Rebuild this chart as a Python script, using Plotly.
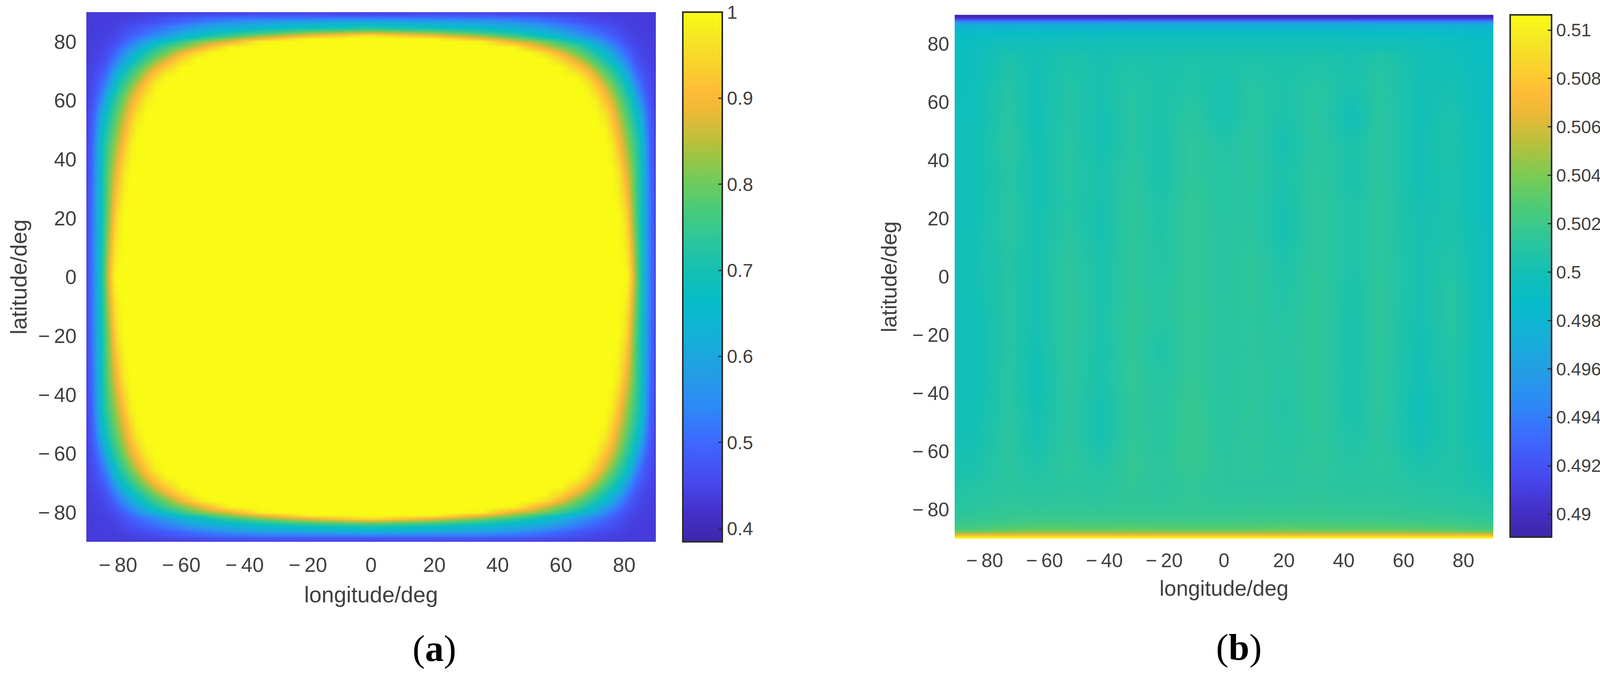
import numpy as np
import plotly.graph_objects as go

W, H = 4142, 1728

# parula
parula = [
    [0.00, "rgb(62,38,168)"], [0.06, "rgb(69,50,205)"], [0.12, "rgb(70,75,240)"],
    [0.19, "rgb(62,105,254)"], [0.25, "rgb(46,135,247)"], [0.31, "rgb(37,155,230)"],
    [0.38, "rgb(22,175,217)"], [0.45, "rgb(6,188,201)"], [0.51, "rgb(20,192,180)"],
    [0.57, "rgb(45,198,155)"], [0.63, "rgb(75,203,120)"], [0.69, "rgb(120,203,85)"],
    [0.75, "rgb(180,193,60)"], [0.81, "rgb(235,185,55)"], [0.85, "rgb(255,187,55)"],
    [0.90, "rgb(250,210,45)"], [0.95, "rgb(245,230,35)"], [1.00, "rgb(249,251,20)"],
]

# panel (a): one quadrant, the map is symmetric
nodes_a = [0, 20, 35, 45, 50, 55, 60, 65, 68, 71, 74, 76, 78, 80, 81, 82, 83, 84, 85, 86, 87, 88, 89, 90]
quad_a = [
    [1, 1, 1, 1, 1, 1, 1, 1, 1, 1, 1, 1, 1, 1, .995, .94, .875, .80, .73, .65, .58, .525, .49, .45],  # lat 0
    [1, 1, 1, 1, 1, 1, 1, 1, 1, 1, 1, 1, 1, .97, .93, .875, .815, .765, .71, .64, .575, .52, .485, .45],  # lat 20
    [1, 1, 1, 1, 1, 1, 1, 1, 1, 1, 1, 1, .975, .905, .87, .835, .795, .75, .705, .625, .57, .51, .48, .447],  # lat 35
    [1, 1, 1, 1, 1, 1, 1, 1, 1, 1, 1, .98, .915, .855, .825, .795, .765, .73, .695, .615, .56, .50, .475, .445],  # lat 45
    [1, 1, 1, 1, 1, 1, 1, 1, 1, 1, .995, .945, .885, .83, .80, .77, .74, .71, .66, .60, .535, .49, .47, .44],  # lat 50
    [1, 1, 1, 1, 1, 1, 1, 1, 1, 1, .97, .915, .855, .80, .77, .74, .71, .67, .62, .57, .515, .485, .465, .44],  # lat 55
    [1, 1, 1, 1, 1, 1, 1, 1, 1, .985, .92, .87, .815, .76, .73, .71, .66, .60, .56, .52, .49, .47, .455, .44],  # lat 60
    [1, 1, 1, 1, 1, 1, 1, 1, .99, .93, .86, .81, .755, .71, .665, .62, .58, .54, .51, .485, .47, .46, .45, .44],  # lat 65
    [1, 1, 1, 1, 1, 1, 1, .995, .945, .885, .81, .765, .72, .66, .62, .58, .54, .51, .49, .475, .465, .455, .447, .44],  # lat 68
    [1, 1, 1, 1, 1, 1, 1, .935, .885, .82, .76, .72, .665, .59, .56, .535, .505, .485, .47, .46, .455, .45, .445, .437],  # lat 71
    [1, 1, 1, 1, 1, 1, .945, .865, .81, .755, .70, .645, .59, .545, .52, .50, .48, .465, .457, .452, .447, .445, .44, .435],  # lat 74
    [1, 1, 1, 1, 1, .96, .885, .80, .76, .715, .65, .60, .555, .515, .495, .48, .47, .46, .452, .448, .445, .442, .44, .435],  # lat 76
    [1, 1, 1, .995, .93, .865, .81, .76, .715, .655, .59, .555, .52, .49, .475, .465, .457, .45, .447, .445, .442, .44, .437, .435],  # lat 78
    [1, 1, .99, .87, .84, .80, .745, .685, .635, .585, .545, .515, .49, .47, .46, .455, .45, .447, .445, .443, .44, .438, .436, .435],  # lat 80
    [1, .99, .885, .82, .78, .73, .69, .625, .585, .555, .525, .50, .48, .465, .455, .45, .447, .445, .442, .44, .44, .438, .436, .435],  # lat 81
    [.97, .885, .82, .75, .715, .665, .625, .575, .55, .525, .50, .485, .47, .457, .45, .447, .445, .442, .44, .44, .438, .437, .435, .435],  # lat 82
    [.865, .82, .75, .705, .675, .64, .60, .555, .53, .51, .49, .475, .465, .453, .447, .445, .442, .44, .44, .438, .437, .436, .435, .435],  # lat 83
    [.765, .735, .70, .65, .625, .60, .565, .53, .515, .495, .48, .47, .46, .45, .445, .442, .44, .44, .438, .437, .436, .435, .435, .435],  # lat 84
    [.705, .675, .635, .61, .60, .575, .545, .52, .50, .485, .47, .463, .455, .447, .443, .44, .44, .438, .437, .437, .436, .435, .435, .435],  # lat 85
    [.65, .625, .605, .58, .56, .54, .515, .49, .48, .47, .46, .455, .45, .445, .442, .44, .44, .438, .437, .436, .435, .435, .435, .435],  # lat 86
    [.59, .575, .56, .54, .525, .505, .49, .475, .465, .455, .45, .447, .443, .44, .44, .438, .437, .436, .436, .435, .435, .435, .435, .435],  # lat 87
    [.52, .515, .51, .505, .50, .49, .48, .465, .458, .45, .447, .444, .44, .44, .438, .437, .436, .436, .435, .435, .435, .435, .435, .433],  # lat 88
    [.47, .475, .475, .47, .465, .46, .455, .447, .445, .442, .44, .44, .438, .437, .436, .436, .435, .435, .435, .435, .435, .434, .433, .432],  # lat 89
    [.445, .445, .445, .445, .44, .44, .44, .438, .438, .437, .436, .436, .435, .435, .435, .435, .435, .434, .434, .434, .433, .432, .432, .43],  # lat 90
]

# panel (b): vertical streaks plus the two bright/dark bands at the poles
lon_b = [-90, -84, -72, -63, -52, -41, -31, -21, -11, 0, 9, 20, 31, 43, 52, 65, 76, 85, 90]
lat_b = [-90, -89.4, -89, -88.5, -88.1, -87, -84.7, -82, -78, -72, -65, -55, -45, -35, -25,
         -15, -5, 5, 15, 25, 35, 45, 55, 65, 75, 80, 83, 85.5, 87, 88, 88.5, 89.3, 90]
z_b = [
    [.5106] * 19,
    [.5100] * 19,
    [.5080] * 19,
    [.5065] * 19,
    [.5048, .5050, .5052, .5053, .5053, .5052, .5053, .5052, .5052, .5052, .5052, .5053, .5052, .5052, .5052, .5052, .5051, .5050, .5048],
    [.5026, .5028, .5033, .5036, .5035, .5035, .5036, .5035, .5034, .5034, .5035, .5036, .5035, .5034, .5035, .5033, .5031, .5028, .5027],
    [.5018, .5019, .5022, .5024, .5024, .5023, .5024, .5023, .5023, .5023, .5023, .5025, .5024, .5023, .5023, .5022, .5021, .5019, .5018],
    [.5013, .5014, .5017, .5017, .5017, .5017, .5017, .5017, .5017, .5017, .5018, .5018, .5018, .5017, .5017, .5016, .5015, .5013, .5012],
    [.5010, .5011, .5014, .5013, .5014, .5013, .5015, .5014, .5016, .5014, .5015, .5014, .5015, .5014, .5014, .5013, .5011, .5010, .5008],
    [.5006, .5008, .5012, .5010, .5012, .5011, .5015, .5012, .5015, .5012, .5012, .5012, .5013, .5011, .5012, .5009, .5008, .5005, .5002],
    [.5003, .5004, .5012, .5006, .5014, .5008, .5016, .5012, .5017, .5012, .5014, .5011, .5015, .5009, .5013, .5005, .5008, .5002, .4998],
    [.5001, .5000, .5012, .5002, .5012, .5002, .5015, .5011, .5018, .5011, .5014, .5009, .5014, .5006, .5012, .4999, .5007, .5000, .4996],
    [.5000, .4998, .5011, .5000, .5012, .5002, .5014, .5010, .5018, .5010, .5014, .5008, .5015, .5004, .5013, .4998, .5007, .4999, .4995],
    [.4999, .4997, .5011, .4999, .5013, .5004, .5016, .5009, .5016, .5010, .5014, .5009, .5015, .5003, .5013, .4999, .5008, .4998, .4995],
    [.4999, .4996, .5010, .5000, .5013, .5004, .5015, .5006, .5016, .5010, .5013, .5010, .5015, .5004, .5014, .5000, .5009, .4998, .4995],
    [.4998, .4997, .5010, .5001, .5014, .5005, .5015, .5009, .5016, .5011, .5013, .5009, .5015, .5004, .5014, .5001, .5010, .4998, .4995],
    [.4998, .4999, .5010, .5001, .5014, .5004, .5014, .5009, .5016, .5010, .5014, .5007, .5015, .5005, .5014, .5002, .5010, .4998, .4994],
    [.4998, .5000, .5009, .5002, .5013, .5004, .5014, .5008, .5016, .5010, .5014, .5006, .5014, .5006, .5013, .5003, .5008, .4997, .4994],
    [.4997, .4999, .5011, .5002, .5011, .5002, .5014, .5007, .5016, .5010, .5012, .5002, .5014, .5006, .5013, .5002, .5006, .4997, .4994],
    [.4997, .4998, .5011, .5001, .5009, .5003, .5014, .5006, .5016, .5009, .5011, .5003, .5014, .5006, .5013, .5001, .5005, .4996, .4994],
    [.4996, .4998, .5010, .5001, .5010, .5004, .5012, .5004, .5014, .5009, .5012, .5005, .5013, .5004, .5012, .5000, .5005, .4996, .4994],
    [.4996, .4998, .5012, .5000, .5010, .5001, .5010, .5004, .5014, .5008, .5012, .5002, .5012, .5005, .5012, .5000, .5006, .4996, .4994],
    [.4996, .4997, .5011, .4999, .5009, .5001, .5010, .5005, .5012, .5002, .5011, .5005, .5012, .4998, .5012, .4999, .5005, .4995, .4993],
    [.4995, .4996, .5009, .4999, .5008, .5003, .5009, .5005, .5008, .5003, .5010, .5006, .5010, .5004, .5011, .5000, .5002, .4994, .4992],
    [.4993, .4995, .5005, .5000, .5006, .5002, .5006, .5004, .5006, .5005, .5006, .5004, .5006, .5003, .5008, .5000, .4998, .4993, .4992],
    [.4992, .4994, .4999, .4998, .5000, .4999, .5000, .5000, .5000, .5000, .5000, .5000, .5000, .4999, .5000, .4998, .4995, .4992, .4992],
    [.4990, .4991, .4992, .4993, .4994, .4994, .4995, .4995, .4995, .4995, .4995, .4995, .4994, .4994, .4993, .4993, .4992, .4990, .4990],
    [.4980] * 19,
    [.4965] * 19,
    [.4937] * 19,
    [.4915] * 19,
    [.4896, .4896, .4896, .4896, .4896, .4896, .4895, .4895, .4894, .4894, .4894, .4895, .4895, .4895, .4896, .4896, .4896, .4896, .4896],
    [.4891, .4891, .4891, .4891, .4891, .4891, .4891, .4891, .4890, .4890, .4890, .4891, .4891, .4891, .4891, .4891, .4891, .4891, .4891],
]

axis_ticks = [-80, -60, -40, -20, 0, 20, 40, 60, 80]
axis_text = ["\u2212\u200980", "\u2212\u200960", "\u2212\u200940", "\u2212\u200920", "0", "20", "40", "60", "80"]
cb_a_ticks = [0.4, 0.5, 0.6, 0.7, 0.8, 0.9, 1]
cb_a_text = ["0.4", "0.5", "0.6", "0.7", "0.8", "0.9", "1"]
cb_b_ticks = [0.49, 0.492, 0.494, 0.496, 0.498, 0.5, 0.502, 0.504, 0.506, 0.508, 0.51]
cb_b_text = ["0.49", "0.492", "0.494", "0.496", "0.498", "0.5", "0.502", "0.504", "0.506", "0.508", "0.51"]

# mirror the quadrant to get the full map
q = np.array(quad_a)
top = np.hstack([q[:, :0:-1], q])
z_a = np.vstack([top[:0:-1], top])
ax_a = [-n for n in nodes_a[:0:-1]] + nodes_a

TXT = "#404040"
FONT = "Liberation Sans"


def colorbar(x0, top_px, bottom_px, ticks, text, size, thick):
    return dict(
        x=x0 / W, xanchor="left", y=1 - top_px / H, yanchor="top",
        thicknessmode="pixels", thickness=thick,
        lenmode="pixels", len=bottom_px - top_px,
        xpad=0, ypad=0, outlinewidth=4, outlinecolor="#2b2b2b",
        ticks="inside", ticklen=12, tickwidth=3, tickcolor="#2b2b2b",
        tickvals=ticks, ticktext=text,
        tickfont=dict(family=FONT, size=size, color=TXT),
    )


fig = go.Figure()
fig.add_trace(go.Heatmap(
    x=ax_a, y=ax_a, z=z_a, zsmooth="best", colorscale=parula, zmin=0.3846, zmax=1,
    xaxis="x", yaxis="y", colorbar=colorbar(1748, 31, 1387, cb_a_ticks, cb_a_text, 48, 101),
))
fig.add_trace(go.Heatmap(
    x=lon_b, y=lat_b, z=z_b, zsmooth="best", colorscale=parula, zmin=0.48905, zmax=0.51063,
    xaxis="x2", yaxis="y2", colorbar=colorbar(3866, 38, 1375, cb_b_ticks, cb_b_text, 46, 106),
))


def axis(title, size, domain, standoff, anchor, label_gap):
    return dict(
        domain=domain, range=[-90, 90], anchor=anchor, tickmode="array",
        tickvals=axis_ticks, ticktext=axis_text,
        showgrid=False, zeroline=False, showline=False, ticks="",
        ticklabelstandoff=label_gap, tickfont=dict(family=FONT, size=size, color=TXT),
        title=dict(text=title, font=dict(family=FONT, size=size + 5, color=TXT), standoff=standoff),
    )


fig.update_layout(
    width=W, height=H, margin=dict(l=0, r=0, t=0, b=0),
    paper_bgcolor="white", plot_bgcolor="white", showlegend=False,
    xaxis=axis("longitude/deg", 52, [221 / W, 1679 / W], 28, "y", 24),
    yaxis=axis("latitude/deg", 52, [1 - 1387 / H, 1 - 31 / H], 10, "x", 24),
    xaxis2=axis("longitude/deg", 50, [2444 / W, 3823 / W], 24, "y2", 22),
    yaxis2=axis("latitude/deg", 50, [1 - 1379 / H, 1 - 38 / H], 21, "x2", 13),
    annotations=[
        dict(text="(<b>a</b>)", x=1054 / W, y=1 - 1659 / H, xref="paper", yref="paper",
             yanchor="middle", showarrow=False,
             font=dict(family="Liberation Serif", size=96, color="black")),
        dict(text="(<b>b</b>)", x=3232 / W, y=1 - 1656 / H, xref="paper", yref="paper",
             yanchor="middle", showarrow=False,
             font=dict(family="Liberation Serif", size=96, color="black")),
    ],
)

fig.write_html("out.html", config={"displayModeBar": False},
               post_script="document.body.style.margin='0';")
